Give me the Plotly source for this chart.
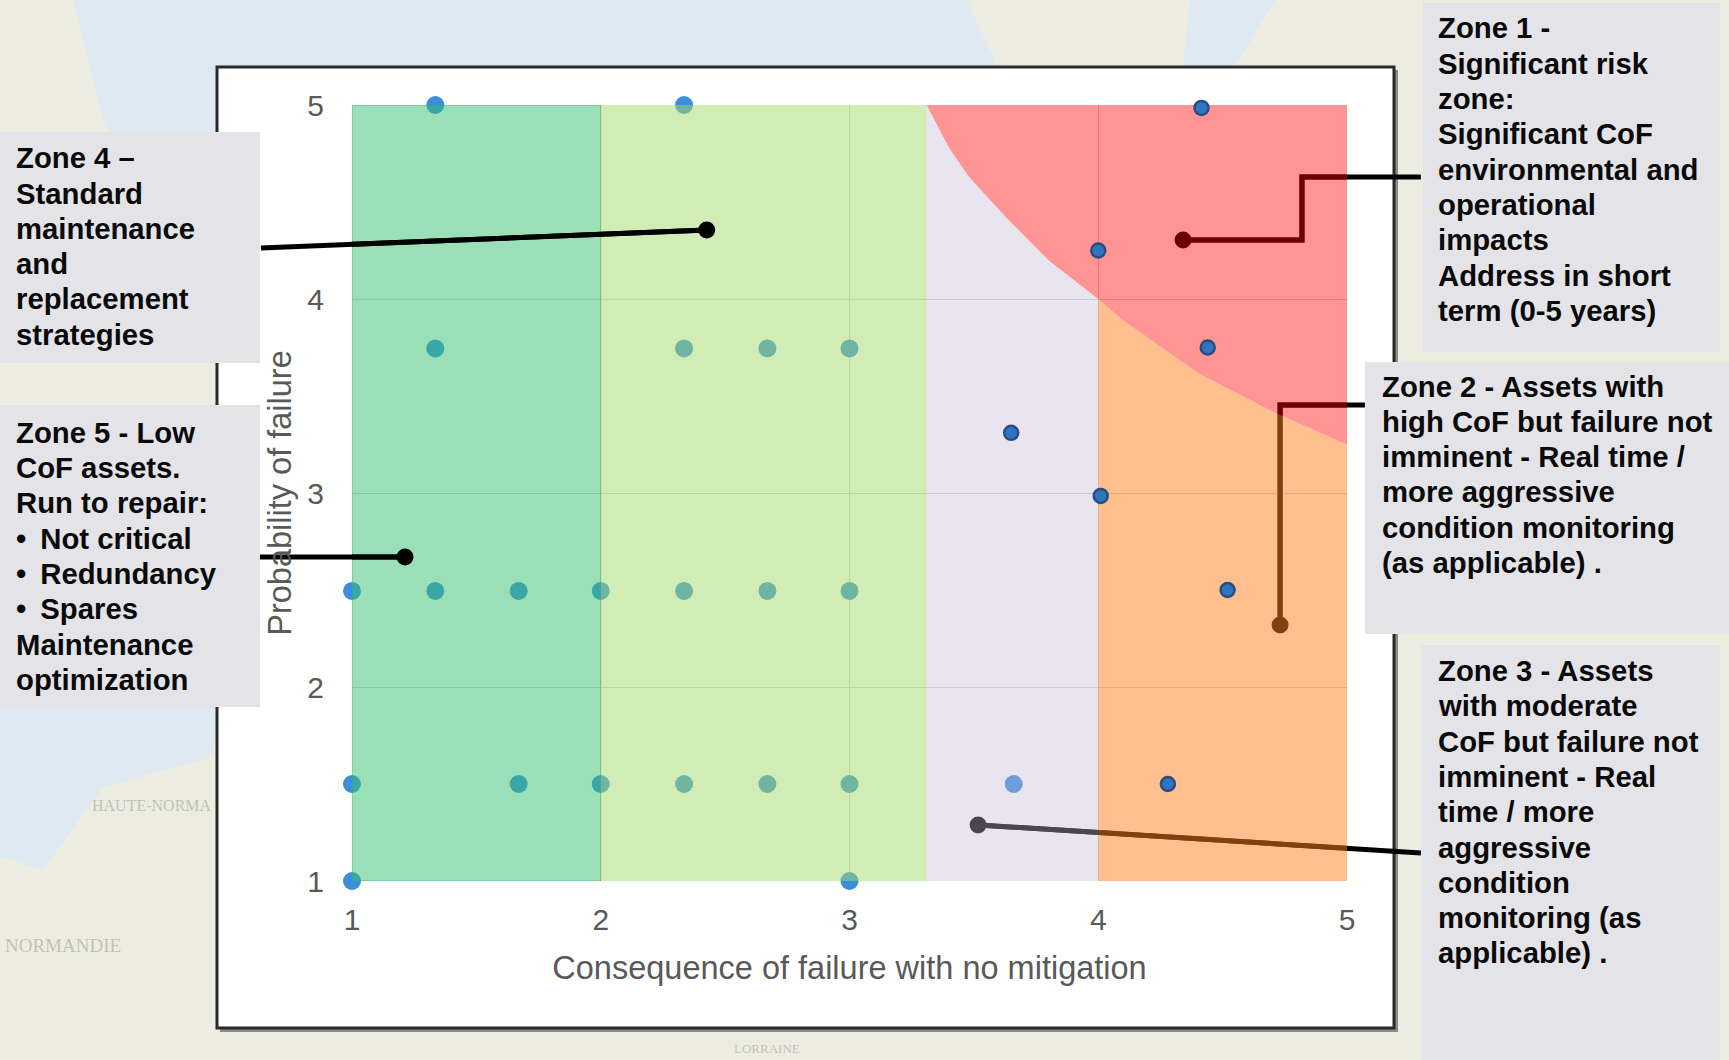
import plotly.graph_objects as go

# ---------- data ----------
pts_x = [1.335, 2.335,
         1.335, 2.335, 2.67, 3,
         1, 1.335, 1.67, 2, 2.335, 2.67, 3,
         1, 1.67, 2, 2.335, 2.67, 3, 3.66,
         1, 3]
pts_y = [5, 5,
         3.745, 3.745, 3.745, 3.745,
         2.495, 2.495, 2.495, 2.495, 2.495, 2.495, 2.495,
         1.5, 1.5, 1.5, 1.5, 1.5, 1.5, 1.5,
         1, 1]
ring_x = [4.415, 4.0, 4.44, 3.65, 4.01, 4.52, 4.28]
ring_y = [4.985, 4.25, 3.75, 3.31, 2.985, 2.5, 1.5]

curve_x = [3.31, 3.40, 3.48, 3.63, 3.80, 4.0, 4.10, 4.40, 4.70, 5.0]
curve_y = [5.0, 4.78, 4.63, 4.42, 4.20, 4.0, 3.89, 3.62, 3.42, 3.25]

tick_vals = [1, 2, 3, 4, 5]
x_title = "Consequence of failure with no mitigation"
y_title = "Probability of failure"

zone4_x, zone4_y = [0.634, 2.426], [4.263, 4.356]
zone5_x, zone5_y = [0.63, 1.213], [2.67, 2.67]
zone1_x, zone1_y = [5.297, 4.819, 4.819, 4.341], [4.629, 4.629, 4.304, 4.304]
zone2_x, zone2_y = [5.072, 4.731, 4.731], [3.454, 3.454, 2.32]
zone3_x, zone3_y = [5.297, 3.517], [1.144, 1.289]

zone1_text = ["Zone 1 -", "Significant risk", "zone:", "Significant CoF", "environmental and",
              "operational", "impacts", "Address in short", "term (0-5 years)"]
zone2_text = ["Zone 2 - Assets with", "high CoF but failure not", "imminent - Real time /",
              "more aggressive", "condition monitoring", "(as applicable) ."]
zone3_text = ["Zone 3 - Assets", "with moderate", "CoF but failure not", "imminent - Real",
              "time / more", "aggressive", "condition", "monitoring (as", "applicable) ."]
zone4_text = ["Zone 4 –", "Standard", "maintenance", "and", "replacement", "strategies"]
zone5_text = ["Zone 5 - Low", "CoF assets.", "Run to repair:", "• \u2009Not critical",
              "• \u2009Redundancy", "• \u2009Spares", "Maintenance", "optimization"]

# ---------- layout helpers ----------
W, H = 1729, 1060
L, R, T, B = 352, 1347, 105, 881


def px(x):
    return (x - L) / (R - L)


def py(y):
    return (B - y) / (B - T)


def rect(x0, y0, x1, y1, fill, line=None, lw=0):
    return dict(type="rect", xref="paper", yref="paper", layer="below",
                x0=px(x0), x1=px(x1), y0=py(y0), y1=py(y1), fillcolor=fill,
                line=dict(color=line or fill, width=lw))


def poly(points, fill):
    d = "M" + " L".join(f"{px(a):.5f},{py(b):.5f}" for a, b in points) + " Z"
    return dict(type="path", xref="paper", yref="paper", layer="below", path=d,
                fillcolor=fill, line=dict(width=0))


def leader(xs, ys, layer):
    # traces are always clipped at the plot edge, so the run out to the text box is a paper shape
    d = "M" + " L".join(f"{(a - 1) / 4:.5f},{(b - 1) / 4:.5f}" for a, b in zip(xs, ys))
    return dict(type="path", xref="paper", yref="paper", layer=layer, path=d,
                line=dict(color="#000000", width=5))


WATER = "#DFE9F2"
BOX = "#E4E4E8"
shapes = [
    poly([(73, 0), (967, 0), (999, 70), (999, 300), (217, 300), (130, 200), (100, 110)], WATER),
    poly([(1190, 0), (1275, 0), (1215, 100), (1180, 90)], WATER),
    poly([(0, 700), (217, 700), (213, 757), (103, 787), (43, 870), (0, 857)], WATER),
    rect(220, 70, 1398, 1032, "#8c8c8c"),
    rect(217, 67, 1394, 1028, "#FFFFFF", "#2a2a2a", 3),
    rect(0, 132, 260, 363, BOX),
    rect(0, 405, 260, 707, BOX),
    rect(1423, 3, 1720, 352, BOX),
    rect(1365, 362, 1729, 634, BOX),
    rect(1421, 645, 1720, 1060, BOX),
    leader(zone1_x, zone1_y, "below"),
    leader(zone2_x, zone2_y, "below"),
    leader(zone3_x, zone3_y, "below"),
    leader(zone4_x, zone4_y, "above"),
    leader(zone5_x, zone5_y, "above"),
]

fig = go.Figure()


def callout(xs, ys):
    sizes = [0] * (len(xs) - 1) + [17]
    fig.add_trace(go.Scatter(x=xs, y=ys, mode="lines+markers", cliponaxis=False,
                             line=dict(color="#000000", width=5),
                             marker=dict(color="#000000", size=sizes, opacity=1, line=dict(width=0)),
                             hoverinfo="skip", showlegend=False))


# points and the right-hand callouts sit under the translucent zones
fig.add_trace(go.Scatter(x=pts_x, y=pts_y, mode="markers", cliponaxis=False,
                         marker=dict(color="#3A8FD8", size=18, line=dict(width=0)),
                         showlegend=False))
for xs, ys in [(zone1_x, zone1_y), (zone2_x, zone2_y), (zone3_x, zone3_y)]:
    callout(xs, ys)


def zone(xs, ys, color, edge=None):
    fig.add_trace(go.Scatter(x=xs, y=ys, mode="lines", fill="toself", fillcolor=color,
                             line=dict(width=1 if edge else 0, color=edge),
                             hoverinfo="skip", showlegend=False))


zone([1, 2, 2, 1, 1], [1, 1, 5, 5, 1], "rgba(53,191,113,0.5)", "rgba(60,170,110,0.6)")
zone([2, 3.31, 3.31, 2], [1, 1, 5, 5], "rgba(165,217,107,0.5)")
zone([3.31] + curve_x[:6] + [4.0], [1] + curve_y[:6] + [1], "rgba(195,184,216,0.38)")
zone([4.0] + curve_x[5:] + [5.0], [1] + curve_y[5:] + [1], "rgba(255,127,30,0.5)")
zone(curve_x + [5.0], curve_y + [5.0], "rgba(255,0,0,0.42)")

for xs, ys in [(zone4_x, zone4_y), (zone5_x, zone5_y)]:
    callout(xs, ys)

fig.add_trace(go.Scatter(x=ring_x, y=ring_y, mode="markers", cliponaxis=False,
                         marker=dict(color="#2F76C0", size=14, line=dict(color="#2B4C80", width=2.5)),
                         showlegend=False))


def note(lines, x, y):
    out = []
    for i, text in enumerate(lines):
        out.append(dict(text=text, xref="paper", yref="paper", x=px(x), y=py(y + 35.3 * i),
                        xanchor="left", yanchor="middle", align="left", showarrow=False,
                        font=dict(family="Liberation Sans", size=29.3, color="#0a0a0a", weight="bold")))
    return out


def maplabel(text, x, y, size=12):
    return dict(text=text, xref="paper", yref="paper", x=px(x), y=py(y), xanchor="left",
                yanchor="middle", showarrow=False,
                font=dict(family="Liberation Serif", size=size, color="rgba(120,120,120,0.4)"))


fig.update_layout(
    width=W, height=H, autosize=False,
    margin=dict(l=L, r=W - R, t=T, b=H - B, pad=0),
    paper_bgcolor="#ECEDE0", plot_bgcolor="rgba(0,0,0,0)",
    shapes=shapes, showlegend=False,
    font=dict(family="Liberation Sans", color="#595959"),
    xaxis=dict(range=[1, 5], tickmode="array", tickvals=tick_vals, ticks="", showline=False,
               zeroline=False, gridcolor="#D4D4D4", gridwidth=1, automargin=False,
               tickfont=dict(size=30, color="#595959"), ticklabelstandoff=18,
               title=dict(text=x_title, font=dict(size=32.5, color="#595959"), standoff=21)),
    yaxis=dict(range=[1, 5], tickmode="array", tickvals=tick_vals, ticks="", showline=False,
               zeroline=False, gridcolor="#D4D4D4", gridwidth=1, automargin=False,
               tickfont=dict(size=30, color="#595959"), ticklabelstandoff=27,
               title=dict(text=y_title, font=dict(size=32.5, color="#595959"), standoff=5)),
    annotations=note(zone1_text, 1436, 28) + note(zone2_text, 1380, 386)
    + note(zone3_text, 1436, 670.5) + note(zone4_text, 14, 157.7) + note(zone5_text, 14, 432.3)
    + [maplabel("HAUTE-NORMA", 90, 805, 16),
       maplabel("NORMANDIE", 3, 945, 19),
       maplabel("LORRAINE", 732, 1048, 13)],
)

fig.write_html("out.html", config={"displayModeBar": False},
               post_script="document.body.style.margin='0';document.body.style.overflow='hidden';")
